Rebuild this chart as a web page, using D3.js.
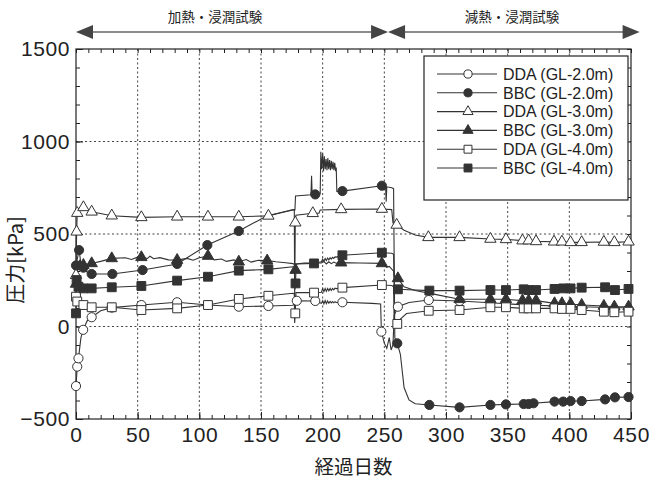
<!DOCTYPE html>
<meta charset="utf-8">
<style>
  body { margin: 0; background: #fff; }
  svg { background-color: white; }
  .axis text { font-family: "Liberation Sans", Arial, sans-serif; font-size: 21px; letter-spacing: 0.6px; fill: #222; }
  .axis path { display: none; }
  .axis line { stroke: #222; }
  .grid line { stroke: #444; stroke-dasharray: 2,2.5; }
  .jp { font-family: "Noto Sans CJK JP", sans-serif; fill: #222; }
  .legend text { font-family: "Liberation Sans", Arial, sans-serif; font-size: 16px; fill: #222; }
</style>

<div id="chart"></div>

<script src="https://d3js.org/d3.v7.min.js"></script>
<script>
// tick values
var dayTicks = [0, 50, 100, 150, 200, 250, 300, 350, 400, 450];
var kpaTicks = [-500, 0, 500, 1000, 1500];

// test phases shown with arrows above the plot (days)
var phaseLabels = ["加熱・浸潤試験", "減熱・浸潤試験"];
var phaseBounds = [0, 253, 457];

var seriesNames = ["DDA (GL-2.0m)", "BBC (GL-2.0m)", "DDA (GL-3.0m)",
                   "BBC (GL-3.0m)", "DDA (GL-4.0m)", "BBC (GL-4.0m)"];

// [day, kPa, marker?]
var ddaGL2 = [[0,-322,1],[1,-217,1],[2,-172,1],[4,-60,0],[5.8,-18,1],[9,30,0],[12.7,50,1],[20,85,0],
  [29,102,1],[53,116,1],[82,131,1],[107,116,1],[132,107,1],[156,111,1],[176,115,0],[177.5,135,0],
  [179,139,1],[194,138,1],[199,125,0],[200,140,0],[201,122,0],[202,140,0],[203,124,0],[204,138,0],
  [205,126,0],[206,136,0],[207,128,0],[208,135,0],[209,128,0],[210,134,0],[211,130,0],[216,131,1],
  [240,125,0],[247,122,0],[247.6,-28,1],[250,-90,0],[252,-118,0],[254,-60,0],[255.5,-127,0],
  [257,-100,0],[258,60,0],[261,107,1],[270,130,0],[286,143,1],[311,138,1],[336,128,0],[360,118,0],
  [400,108,0],[450,100,0]];

var bbcGL2 = [[0,330,1],[2.5,413,1],[4,340,0],[6,318,1],[9,295,0],[12.7,284,1],[29.5,284,1],
  [54,305,1],[82,338,1],[106.5,440,1],[132,516,1],[155,599,0],[176,630,0],[177.5,630,0],[178,705,0],
  [190.5,712,0],[191,815,0],[191.5,712,0],[194,714,1],[198,718,0],[198.5,945,0],[199.2,850,0],
  [200,935,0],[200.7,840,0],[201.4,920,0],[202.1,850,0],[202.8,905,0],[203.5,845,0],[204.2,910,0],
  [204.9,850,0],[205.6,900,0],[206.3,845,0],[207,895,0],[207.7,850,0],[208.4,890,0],[209.1,845,0],
  [209.8,885,0],[210.5,840,0],[211,860,0],[211.5,730,0],[216,732,1],[248,761,1],[251,760,0],
  [251.5,675,0],[252,755,0],[256,750,0],[257.5,745,0],[258.5,-60,0],[260.5,-91,1],[263,-150,0],
  [266,-330,0],[270,-397,0],[275,-418,0],[286.5,-424,1],[311,-437,1],[336,-424,1],[348.6,-421,1],
  [363,-419,1],[367,-419,1],[371,-415,1],[388,-406,1],[395,-406,1],[401,-403,1],[410,-403,1],
  [429,-394,1],[437,-383,1],[448,-381,1]];

var ddaGL3 = [[0,277,1],[0.5,512,1],[1,613,1],[3,640,0],[6,644,1],[12.7,620,1],[29,599,1],[53,590,1],
  [82,593,1],[107,593,1],[132,593,1],[156,598,1],[176,632,0],[177,632,0],[177.3,160,0],[177.8,561,1],
  [178.3,602,0],[192,612,1],[197,612,0],[198,630,0],[215,633,1],[248,635,1],[256,632,0],[257,560,0],
  [260,549,1],[266,520,0],[275,495,0],[285.7,482,1],[311,482,1],[336,473,1],[348.6,471,1],[362,464,1],
  [367,464,1],[373,460,1],[387.6,458,1],[394,458,1],[401,455,1],[410,455,1],[428,457,1],[436.5,455,1],
  [448,458,1]];

var bbcGL3 = [[0,230,1],[1,300,0],[3,325,1],[6,332,1],[12.7,341,1],[20,352,0],[29,368,1],[40,372,0],
  [45,362,0],[50,375,0],[53,374,1],[58,368,0],[60,380,0],[63,366,0],[68,372,0],[75,360,0],[82,359,1],
  [90,368,0],[95,358,0],[100,372,0],[107,381,1],[112,360,0],[118,365,0],[122,352,0],[128,360,0],
  [132,350,1],[138,362,0],[142,348,0],[148,358,0],[155,356,1],[162,350,0],[170,345,0],[176,340,0],
  [177,335,0],[177.5,310,0],[178,305,1],[178.5,338,0],[185,343,0],[199,343,0],[201,352,0],[203,338,0],
  [205,350,0],[207,340,0],[209,348,0],[211,342,0],[215,345,1],[230,343,0],[248,341,1],[250,330,0],
  [252,320,0],[254,325,0],[256,310,0],[257.5,300,0],[258,270,0],[261,260,1],[266,215,0],[275,195,0],
  [290,175,0],[311,147,1],[336,147,1],[348.6,147,1],[362,140,1],[367,140,1],[373,140,1],[388,125,1],
  [394,125,1],[401,122,1],[410,116,1],[428,111,1],[436.5,107,1],[448,107,1]];

var ddaGL4 = [[0,161,1],[1,135,1],[3,120,0],[6,116,1],[12.7,104,1],[29,104,1],[53,89,1],[82,98,1],
  [107,116,1],[132,149,1],[156,166,1],[176,180,0],[177,175,0],[177.3,19,0],[177.8,71,1],[178.3,183,0],
  [193,183,1],[199,185,0],[200,205,0],[201,188,0],[202,206,0],[203,190,0],[204,205,0],[205,193,0],
  [206,206,0],[207,195,0],[208,206,0],[209,198,0],[210,207,0],[211,205,0],[216,210,1],[248,224,1],
  [256,222,0],[257.5,215,0],[258,14,0],[260.5,14,1],[263,40,0],[268,70,0],[286,85,1],[311,89,1],
  [336,104,1],[348.6,104,1],[363,98,1],[367,98,1],[373,98,1],[388,98,1],[394,95,1],[401,95,1],
  [410,89,1],[428,80,1],[436.5,77,1],[448,80,1]];

var bbcGL4 = [[0,71,1],[0.5,251,1],[2,215,1],[6,206,1],[12.7,206,1],[29,212,1],[53,219,1],[82,248,1],
  [107,269,1],[132,302,1],[156,309,1],[176,323,0],[177,320,0],[177.5,200,0],[178,233,1],[178.5,338,0],
  [193,341,1],[199,350,0],[200,365,0],[201,352,0],[202,368,0],[203,356,0],[204,370,0],[205,360,0],
  [206,372,0],[207,364,0],[208,374,0],[209,368,0],[210,376,0],[211,375,0],[216,385,1],[248,399,1],
  [256,396,0],[257.5,390,0],[258,210,0],[261,201,1],[286.5,194,1],[311,194,1],[336,197,1],[348.6,197,1],
  [363,201,1],[367,197,1],[373,197,1],[388,203,1],[395,206,1],[401,206,1],[410,210,1],[429,212,1],
  [437,197,1],[448,203,1]];

var allSeries = [ddaGL2, bbcGL2, ddaGL3, bbcGL3, ddaGL4, bbcGL4];
var symbolTypes = [d3.symbolCircle, d3.symbolCircle, d3.symbolTriangle, d3.symbolTriangle, d3.symbolSquare, d3.symbolSquare];
var symbolSizes = [66, 66, 56, 56, 78, 78];
var filled = [false, true, false, true, false, true];

var margin = {top: 49, right: 23, bottom: 60, left: 76};
var width = 654 - margin.left - margin.right,
    height = 479 - margin.top - margin.bottom;

var xScale = d3.scaleLinear().domain([0, 450]).range([0, width]);
var yScale = d3.scaleLinear().domain([-500, 1500]).range([height, 0]);

var root = d3.select("#chart").append("svg")
    .attr("width", 654)
    .attr("height", 479);

var svg = root.append("g")
    .attr("transform", "translate(" + margin.left + "," + margin.top + ")");

// dotted grid
svg.append("g").attr("class", "grid")
  .selectAll("line.v").data(dayTicks.slice(1, -1)).enter().append("line")
  .attr("x1", function(d){ return xScale(d); }).attr("x2", function(d){ return xScale(d); })
  .attr("y1", 0).attr("y2", height);
svg.append("g").attr("class", "grid")
  .selectAll("line.h").data(kpaTicks.slice(1, -1)).enter().append("line")
  .attr("y1", function(d){ return yScale(d); }).attr("y2", function(d){ return yScale(d); })
  .attr("x1", 0).attr("x2", width);

// ticks on all four sides, pointing inwards
var minorDays = d3.range(0, 451, 10), minorKpa = d3.range(-500, 1501, 100);

svg.append("g").attr("class", "axis")
  .attr("transform", "translate(0," + height + ")")
  .call(d3.axisBottom(xScale).tickValues(dayTicks).tickSize(-7).tickPadding(8).tickFormat(d3.format("d")));
svg.append("g").attr("class", "axis")
  .attr("transform", "translate(0," + height + ")")
  .call(d3.axisBottom(xScale).tickValues(minorDays).tickSize(-4).tickFormat(""));
svg.append("g").attr("class", "axis")
  .call(d3.axisTop(xScale).tickValues(minorDays).tickSize(-4).tickFormat(""));
svg.append("g").attr("class", "axis")
  .call(d3.axisLeft(yScale).tickValues(kpaTicks).tickSize(-7).tickPadding(6).tickFormat(d3.format("d")));
svg.append("g").attr("class", "axis")
  .call(d3.axisLeft(yScale).tickValues(minorKpa).tickSize(-4).tickFormat(""));
svg.append("g").attr("class", "axis")
  .attr("transform", "translate(" + width + ",0)")
  .call(d3.axisRight(yScale).tickValues(minorKpa).tickSize(-4).tickFormat(""));

svg.append("rect")
  .attr("width", width).attr("height", height)
  .attr("fill", "none").attr("stroke", "#222").attr("stroke-width", 1.2);

// lines + markers
var line = d3.line()
  .x(function(d){ return xScale(d[0]); })
  .y(function(d){ return yScale(d[1]); });

allSeries.forEach(function(data, i){
  svg.append("path")
    .datum(data)
    .attr("d", line)
    .attr("fill", "none")
    .attr("stroke", "#333")
    .attr("stroke-width", 1.1);
});

allSeries.forEach(function(data, i){
  svg.append("g").selectAll("path")
    .data(data.filter(function(d){ return d[2] == 1; }))
    .enter().append("path")
    .attr("d", d3.symbol().type(symbolTypes[i]).size(symbolSizes[i]))
    .attr("transform", function(d){ return "translate(" + xScale(d[0]) + "," + yScale(d[1]) + ")"; })
    .attr("fill", filled[i] ? "#333" : "#fff")
    .attr("stroke", "#333")
    .attr("stroke-width", 1);
});

// legend
var legend = svg.append("g").attr("class", "legend")
  .attr("transform", "translate(" + (424 - margin.left) + "," + (56 - margin.top) + ")");
legend.append("rect")
  .attr("width", 204).attr("height", 144)
  .attr("fill", "#fff").attr("stroke", "#222").attr("stroke-width", 1.2);

var rows = legend.selectAll("g.row").data(seriesNames).enter().append("g")
  .attr("transform", function(d, i){ return "translate(0," + (18 + i * 18.8) + ")"; });
rows.append("line").attr("x1", 13).attr("x2", 73).attr("stroke", "#333").attr("stroke-width", 1.1);
rows.append("path")
  .attr("d", function(d, i){ return d3.symbol().type(symbolTypes[i]).size(symbolSizes[i] * 0.8)(); })
  .attr("transform", "translate(44,0)")
  .attr("fill", function(d, i){ return filled[i] ? "#333" : "#fff"; })
  .attr("stroke", "#333");
rows.append("text").attr("x", 79).attr("dy", "0.36em").text(function(d){ return d; });

// axis titles
root.append("text").attr("class", "jp")
  .attr("x", margin.left + xScale(225)).attr("y", 474)
  .attr("text-anchor", "middle").attr("font-size", 19.5)
  .text("経過日数");
root.append("text").attr("class", "jp")
  .attr("transform", "translate(23," + (margin.top + yScale(360)) + ") rotate(-90)")
  .attr("text-anchor", "middle").attr("font-size", 20)
  .text("圧力[kPa]");

// phase arrows above the plot
var arrowY = 32, head = 17, half = 7;
for (var p = 0; p < phaseLabels.length; p++) {
  var a = margin.left + xScale(phaseBounds[p]), b = margin.left + xScale(phaseBounds[p + 1]);
  root.append("line").attr("x1", a + head - 2).attr("x2", b - head + 2)
    .attr("y1", arrowY).attr("y2", arrowY).attr("stroke", "#666").attr("stroke-width", 1.4);
  root.append("path")
    .attr("d", "M" + a + "," + arrowY + "L" + (a + head) + "," + (arrowY - half) + "L" + (a + head) + "," + (arrowY + half) + "Z")
    .attr("fill", "#444");
  root.append("path")
    .attr("d", "M" + b + "," + arrowY + "L" + (b - head) + "," + (arrowY - half) + "L" + (b - head) + "," + (arrowY + half) + "Z")
    .attr("fill", "#444");
  root.append("text").attr("class", "jp")
    .attr("x", p == 0 ? 215 : 512).attr("y", 22)
    .attr("text-anchor", "middle").attr("font-size", 13.5)
    .text(phaseLabels[p]);
}
</script>
